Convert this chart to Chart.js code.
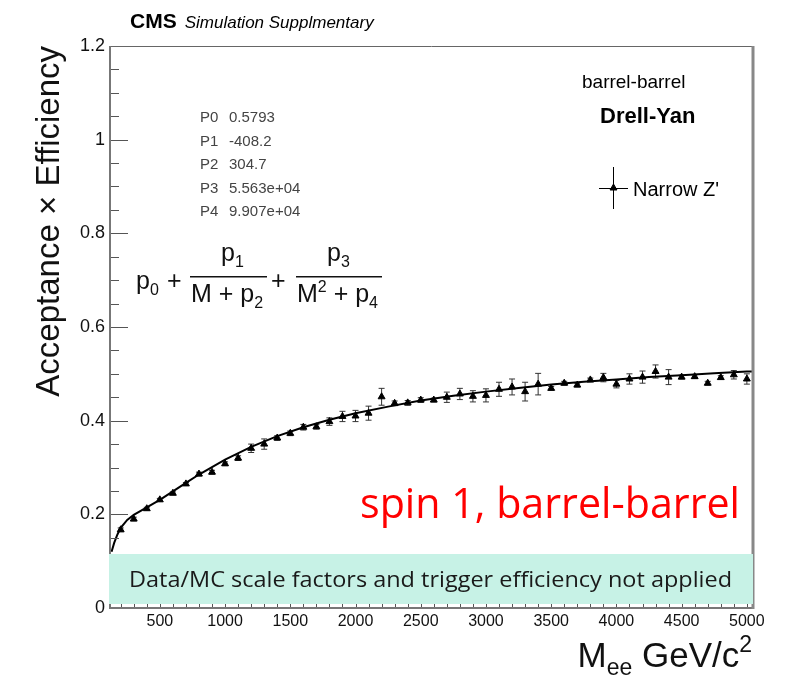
<!DOCTYPE html>
<html>
<head>
<meta charset="utf-8">
<script src="https://cdn.jsdelivr.net/npm/chart.js@4.4.0/dist/chart.umd.min.js"></script>
<style>
  html, body { margin: 0; padding: 0; background: #fff; }
  #wrap { width: 795px; height: 677px; position: relative; }
</style>
</head>
<body>
<div id="wrap"><canvas id="chart"></canvas></div>
<script>
// Narrow Z' acceptance x efficiency, barrel-barrel
const massPoints = [200, 300, 400, 500, 600, 700, 800, 900, 1000, 1100, 1200, 1300, 1400, 1500,
  1600, 1700, 1800, 1900, 2000, 2100, 2200, 2300, 2400, 2500, 2600, 2700, 2800, 2900, 3000,
  3100, 3200, 3300, 3400, 3500, 3600, 3700, 3800, 3900, 4000, 4100, 4200, 4300, 4400, 4500,
  4600, 4700, 4800, 4900, 5000];
const accEff = [0.167, 0.190, 0.212, 0.231, 0.245, 0.265, 0.286, 0.290, 0.308, 0.320, 0.341, 0.350,
  0.363, 0.373, 0.386, 0.387, 0.398, 0.409, 0.410, 0.416, 0.451, 0.437, 0.438, 0.444, 0.444,
  0.450, 0.457, 0.452, 0.454, 0.467, 0.472, 0.462, 0.478, 0.469, 0.480, 0.476, 0.487, 0.492,
  0.478, 0.489, 0.493, 0.505, 0.493, 0.493, 0.494, 0.480, 0.492, 0.498, 0.489];
const accErr = [0.004, 0.004, 0.003, 0.003, 0.003, 0.003, 0.004, 0.004, 0.004, 0.005, 0.009, 0.011,
  0.005, 0.005, 0.006, 0.005, 0.008, 0.011, 0.012, 0.015, 0.018, 0.005, 0.005, 0.005, 0.004,
  0.011, 0.012, 0.012, 0.014, 0.015, 0.017, 0.020, 0.023, 0.004, 0.004, 0.004, 0.004, 0.009,
  0.008, 0.011, 0.013, 0.014, 0.016, 0.004, 0.004, 0.004, 0.004, 0.009, 0.011];

// fitted curve as drawn
const fitMass = [130, 150, 175, 200, 250, 300, 400, 500, 600, 700, 800, 1000, 1200, 1400, 1600,
  1800, 2000, 2250, 2500, 2750, 3000, 3250, 3500, 3750, 4000, 4250, 4500, 4750, 5000, 5045];
const fitAcc = [0.120, 0.139, 0.157, 0.171, 0.188, 0.199, 0.215, 0.231, 0.249, 0.267, 0.285, 0.317,
  0.344, 0.367, 0.386, 0.402, 0.416, 0.430, 0.443, 0.453, 0.462, 0.470, 0.477, 0.483, 0.488,
  0.493, 0.497, 0.501, 0.505, 0.505];

const xTickLabels = [500, 1000, 1500, 2000, 2500, 3000, 3500, 4000, 4500, 5000];
const yTickLabels = ['0', '0.2', '0.4', '0.6', '0.8', '1', '1.2'];
const fitParams = [['P0', '0.5793'], ['P1', '-408.2'], ['P2', '304.7'], ['P3', '5.563e+04'], ['P4', '9.907e+04']];

const FONT = '"Liberation Sans", Arial, Helvetica, sans-serif';
const CAL = '"Open Sans", "Noto Sans", sans-serif';

// draw a run of text pieces: [text, size, dy, weight]
function drawPieces(ctx, pieces, x, y) {
  pieces.forEach(p => {
    ctx.font = (p[3] || '') + ' ' + p[1] + 'px ' + FONT;
    ctx.fillText(p[0], x, y + (p[2] || 0));
    x += ctx.measureText(p[0]).width;
  });
  return x;
}
function piecesWidth(ctx, pieces) {
  let w = 0;
  pieces.forEach(p => {
    ctx.font = (p[3] || '') + ' ' + p[1] + 'px ' + FONT;
    w += ctx.measureText(p[0]).width;
  });
  return w;
}
function fitText(ctx, text, font, left, right, y, color) {
  ctx.save();
  ctx.font = font;
  ctx.fillStyle = color;
  ctx.textAlign = 'left';
  const w = ctx.measureText(text).width;
  ctx.translate(left, y);
  ctx.scale((right - left) / w, 1);
  ctx.fillText(text, 0, 0);
  ctx.restore();
}

const errorBars = {
  id: 'errorBars',
  beforeDatasetsDraw(chart) {
    const ctx = chart.ctx, xs = chart.scales.x, ys = chart.scales.y;
    ctx.save();
    ctx.strokeStyle = '#333';
    ctx.lineWidth = 1;
    massPoints.forEach((m, i) => {
      const px = xs.getPixelForValue(m);
      const y1 = ys.getPixelForValue(accEff[i] - accErr[i]);
      const y2 = ys.getPixelForValue(accEff[i] + accErr[i]);
      ctx.beginPath();
      ctx.moveTo(px, y1); ctx.lineTo(px, y2);
      ctx.moveTo(px - 3, y1); ctx.lineTo(px + 3, y1);
      ctx.moveTo(px - 3, y2); ctx.lineTo(px + 3, y2);
      ctx.stroke();
    });
    ctx.restore();
  }
};

const rootFrame = {
  id: 'rootFrame',
  afterDatasetsDraw(chart) {
    const ctx = chart.ctx, a = chart.chartArea, xs = chart.scales.x, ys = chart.scales.y;
    ctx.save();
    // ticks
    ctx.strokeStyle = '#555';
    ctx.lineWidth = 1;
    ctx.beginPath();
    for (let v = 0; v <= 1.2001; v += 0.05) {
      const py = Math.round(ys.getPixelForValue(v)) + 0.5;
      const major = Math.abs(v / 0.2 - Math.round(v / 0.2)) < 1e-6;
      ctx.moveTo(a.left, py); ctx.lineTo(a.left + (major ? 18 : 9), py);
    }
    for (let m = 200; m <= 5000; m += 100) {
      const px = Math.round(xs.getPixelForValue(m)) + 0.5;
      ctx.moveTo(px, a.bottom); ctx.lineTo(px, a.bottom - (m % 500 === 0 ? 18 : 9));
    }
    ctx.stroke();
    // frame
    ctx.strokeStyle = '#666';
    ctx.lineWidth = 1;
    ctx.beginPath();
    ctx.moveTo(a.left, a.top + 0.5); ctx.lineTo(a.right, a.top + 0.5);
    ctx.stroke();
    ctx.strokeStyle = '#777';
    ctx.lineWidth = 2;
    ctx.beginPath();
    ctx.moveTo(a.left, a.top); ctx.lineTo(a.left, a.bottom);
    ctx.lineTo(a.right, a.bottom);
    ctx.stroke();
    ctx.strokeStyle = '#888';
    ctx.lineWidth = 3;
    ctx.beginPath();
    ctx.moveTo(a.right, a.top); ctx.lineTo(a.right, a.bottom + 1);
    ctx.stroke();

    // tick labels
    ctx.fillStyle = '#111';
    ctx.font = '18px ' + FONT;
    ctx.textAlign = 'right';
    ctx.textBaseline = 'middle';
    yTickLabels.forEach(t => ctx.fillText(t, a.left - 5, ys.getPixelForValue(parseFloat(t))));
    ctx.font = '16px ' + FONT;
    ctx.textAlign = 'center';
    ctx.textBaseline = 'top';
    xTickLabels.forEach(t => ctx.fillText(String(t), xs.getPixelForValue(t), a.bottom + 6));

    // axis titles
    ctx.textBaseline = 'alphabetic';
    ctx.save();
    ctx.translate(59, a.top);
    ctx.rotate(-Math.PI / 2);
    ctx.textAlign = 'right';
    ctx.font = '33px ' + FONT;
    ctx.fillText('Acceptance \u00d7 Efficiency', 0, 0);
    ctx.restore();
    ctx.textAlign = 'left';
    const xt = [['M', 35], ['ee', 23, 8], [' GeV/c', 35], ['2', 23, -15]];
    drawPieces(ctx, xt, a.right - 1 - piecesWidth(ctx, xt), 667);

    // header
    ctx.fillStyle = '#000';
    let hx = drawPieces(ctx, [['CMS', 21, 0, 'bold']], 130, 28);
    drawPieces(ctx, [['Simulation Supplmentary', 17, 0, 'italic']], hx + 8, 28);

    // fit parameters
    ctx.fillStyle = '#444';
    ctx.font = '15px ' + FONT;
    fitParams.forEach((p, i) => {
      const by = 122 + i * 23.5;
      ctx.fillText(p[0], 200, by);
      ctx.fillText(p[1], 229, by);
    });

    // formula
    ctx.fillStyle = '#111';
    const F = 25, S = 16;
    drawPieces(ctx, [['p', F], ['0', S, 6]], 136, 289);
    drawPieces(ctx, [['+', F]], 167, 289);
    drawPieces(ctx, [['p', F], ['1', S, 6]], 221, 261);
    ctx.fillRect(190, 276, 77, 1.5);
    drawPieces(ctx, [['M + p', F], ['2', S, 6]], 191, 302);
    drawPieces(ctx, [['+', F]], 271, 289);
    drawPieces(ctx, [['p', F], ['3', S, 6]], 327, 261);
    ctx.fillRect(296, 276, 86, 1.5);
    drawPieces(ctx, [['M', F], ['2', S, -10], [' + p', F], ['4', S, 6]], 297, 302);

    // labels top right
    ctx.fillStyle = '#000';
    drawPieces(ctx, [['barrel-barrel', 19]], 582, 88);
    drawPieces(ctx, [['Drell-Yan', 22, 0, 'bold']], 600, 123);

    // legend
    ctx.strokeStyle = '#000';
    ctx.lineWidth = 1;
    ctx.beginPath();
    ctx.moveTo(613.5, 167); ctx.lineTo(613.5, 209);
    ctx.moveTo(599, 188.5); ctx.lineTo(628, 188.5);
    ctx.stroke();
    ctx.fillStyle = '#000';
    Chart.helpers.drawPoint(ctx, { pointStyle: 'triangle', radius: 4, borderWidth: 1, rotation: 0 }, 613.5, 188);
    drawPieces(ctx, [['Narrow Z\'', 20]], 633, 196);

    // note box
    ctx.fillStyle = '#c7f2e6';
    ctx.fillRect(a.left - 1, 554, a.right - a.left + 1, 50);
    fitText(ctx, 'Data/MC scale factors and trigger efficiency not applied', '22px ' + CAL, 129, 732, 587, '#1a1a1a');
    fitText(ctx, 'spin 1, barrel-barrel', '42px ' + CAL, 360, 740, 518, '#ff0000');
    ctx.restore();
  }
};

new Chart(document.getElementById('chart'), {
  type: 'scatter',
  data: {
    datasets: [
      {
        type: 'line',
        label: 'fit',
        data: fitMass.map((m, i) => ({ x: m, y: fitAcc[i] })),
        borderColor: '#000',
        borderWidth: 2,
        pointRadius: 0,
        tension: 0,
        fill: false
      },
      {
        label: 'Narrow Z\'',
        data: massPoints.map((m, i) => ({ x: m, y: accEff[i] })),
        pointStyle: 'triangle',
        pointRadius: 4,
        backgroundColor: '#000',
        borderColor: '#000',
        borderWidth: 1
      }
    ]
  },
  options: {
    responsive: true,
    maintainAspectRatio: false,
    animation: false,
    layout: { padding: { left: 110, right: 42, top: 46, bottom: 69 } },
    plugins: { legend: { display: false }, tooltip: { enabled: false } },
    scales: {
      x: { type: 'linear', display: false, min: 118, max: 5047 },
      y: { type: 'linear', display: false, min: 0, max: 1.2 }
    }
  },
  plugins: [errorBars, rootFrame]
});
</script>
</body>
</html>
